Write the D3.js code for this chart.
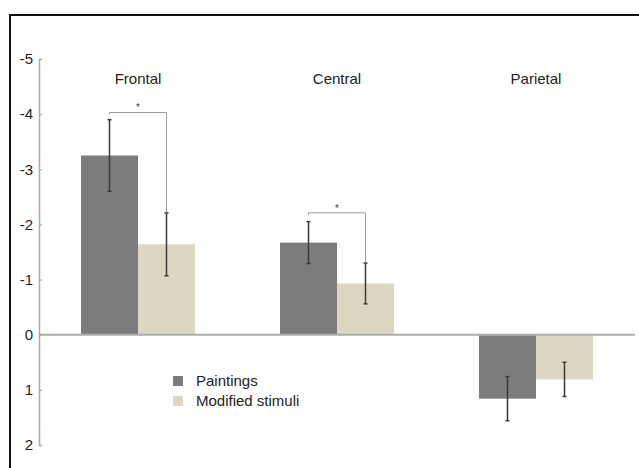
<!DOCTYPE html>
<html>
<head>
<meta charset="utf-8">
<script src="https://cdn.jsdelivr.net/npm/d3@7/dist/d3.min.js"></script>
<style>
  html, body { margin: 0; padding: 0; background: #fff; }
  svg { display: block; font-family: "Liberation Sans", Arial, Helvetica, sans-serif; }
</style>
</head>
<body>
<svg id="chart" width="639" height="468"></svg>
<script>
// Electrode regions and stimulus types
const regions = ["Frontal", "Central", "Parietal"];
const series = ["Paintings", "Modified stimuli"];

// Mean amplitude per region (negative values point upward on the inverted axis)
const paintings = [-3.25, -1.67, 1.16];
const modified = [-1.64, -0.93, 0.81];

// Error bar half-lengths
const paintingsErr = [0.65, 0.38, 0.40];
const modifiedErr = [0.57, 0.37, 0.31];

// Significance brackets: region and the level of the bracket line
const sigRegions = ["Frontal", "Central"];
const sigLevels = [-4.03, -2.21];

// Y axis ticks
const yTicks = [-5, -4, -3, -2, -1, 0, 1, 2];

const colors = { "Paintings": "#7c7c7c", "Modified stimuli": "#dbd7c2" };

const svg = d3.select("#chart");

// Outer frame (top and left edges)
svg.append("path")
  .attr("d", "M10,468 L10,15 L639,15")
  .attr("fill", "none")
  .attr("stroke", "#111")
  .attr("stroke-width", 2);

const y = d3.scaleLinear().domain([-5, 2]).range([59, 445]);
const xGroup = d3.scalePoint().domain(regions).range([138, 536]);
const xSeries = d3.scaleBand().domain(series).range([-57, 57]);

const rows = regions.map((r, i) => ({
  region: r,
  values: [
    { key: series[0], v: paintings[i], e: paintingsErr[i] },
    { key: series[1], v: modified[i], e: modifiedErr[i] }
  ]
}));

// Bars
const groups = svg.append("g").selectAll("g")
  .data(rows).join("g")
  .attr("transform", d => `translate(${xGroup(d.region)},0)`);

groups.selectAll("rect")
  .data(d => d.values).join("rect")
  .attr("x", d => xSeries(d.key))
  .attr("width", xSeries.bandwidth())
  .attr("y", d => Math.min(y(d.v), y(0)))
  .attr("height", d => Math.abs(y(d.v) - y(0)))
  .attr("fill", d => colors[d.key]);

// Zero line
svg.append("line")
  .attr("x1", 39).attr("x2", 635)
  .attr("y1", y(0)).attr("y2", y(0))
  .attr("stroke", "#adadad")
  .attr("stroke-width", 2);

// Error bars
const eb = groups.selectAll("g.err")
  .data(d => d.values).join("g")
  .attr("class", "err")
  .attr("transform", d => `translate(${xSeries(d.key) + xSeries.bandwidth() / 2},0)`);

eb.append("line")
  .attr("y1", d => y(d.v - d.e)).attr("y2", d => y(d.v + d.e))
  .attr("stroke", "#3a3a3a").attr("stroke-width", 1.5);
eb.append("line")
  .attr("x1", -2).attr("x2", 2)
  .attr("y1", d => y(d.v - d.e)).attr("y2", d => y(d.v - d.e))
  .attr("stroke", "#3a3a3a").attr("stroke-width", 1.5);
eb.append("line")
  .attr("x1", -2).attr("x2", 2)
  .attr("y1", d => y(d.v + d.e)).attr("y2", d => y(d.v + d.e))
  .attr("stroke", "#3a3a3a").attr("stroke-width", 1.5);

// Significance brackets
const brackets = sigRegions.map((r, i) => {
  const idx = regions.indexOf(r);
  return { region: r, level: sigLevels[i], end: modified[idx] - modifiedErr[idx] };
});
const half = xSeries.bandwidth() / 2;
const br = svg.append("g").selectAll("g")
  .data(brackets).join("g")
  .attr("transform", d => `translate(${xGroup(d.region)},0)`);
br.append("path")
  .attr("d", d => {
    const x0 = xSeries(series[0]) + half, x1 = xSeries(series[1]) + half;
    return `M${x0},${y(d.level) + 2} L${x0},${y(d.level)} L${x1},${y(d.level)} L${x1},${y(d.end)}`;
  })
  .attr("fill", "none")
  .attr("stroke", "#9a9a9a")
  .attr("stroke-width", 1);
br.append("text")
  .attr("x", 0)
  .attr("y", d => y(d.level) - 1)
  .attr("text-anchor", "middle")
  .attr("font-size", 10)
  .attr("fill", "#444")
  .text("*");

// Region labels
svg.append("g").selectAll("text")
  .data(regions).join("text")
  .attr("x", d => xGroup(d))
  .attr("y", 84)
  .attr("text-anchor", "middle")
  .attr("font-size", 15)
  .attr("fill", "#222")
  .text(d => d);

// Y axis with inward ticks
const yAxis = d3.axisRight(y)
  .tickValues(yTicks)
  .tickSize(3)
  .tickFormat(d => String(d));
const ax = svg.append("g")
  .attr("transform", "translate(39,0)")
  .call(yAxis);
ax.select(".domain").attr("stroke", "#aaa").attr("stroke-width", 1.5);
ax.selectAll(".tick line").attr("stroke", "#aaa").attr("stroke-width", 1.2);
ax.selectAll(".tick text")
  .attr("x", -6)
  .attr("text-anchor", "end")
  .attr("font-size", 15)
  .attr("font-family", "'Liberation Sans', Arial, sans-serif")
  .attr("fill", "#1e1e1e");

// Legend
const legend = svg.append("g").attr("transform", "translate(173,376)");
const li = legend.selectAll("g")
  .data(series).join("g")
  .attr("transform", (d, i) => `translate(0,${i * 20})`);
li.append("rect")
  .attr("width", 10).attr("height", 10)
  .attr("fill", d => colors[d]);
li.append("text")
  .attr("x", 23)
  .attr("y", 5)
  .attr("dy", "0.36em")
  .attr("font-size", 15)
  .attr("fill", "#222")
  .text(d => d);
</script>
</body>
</html>
